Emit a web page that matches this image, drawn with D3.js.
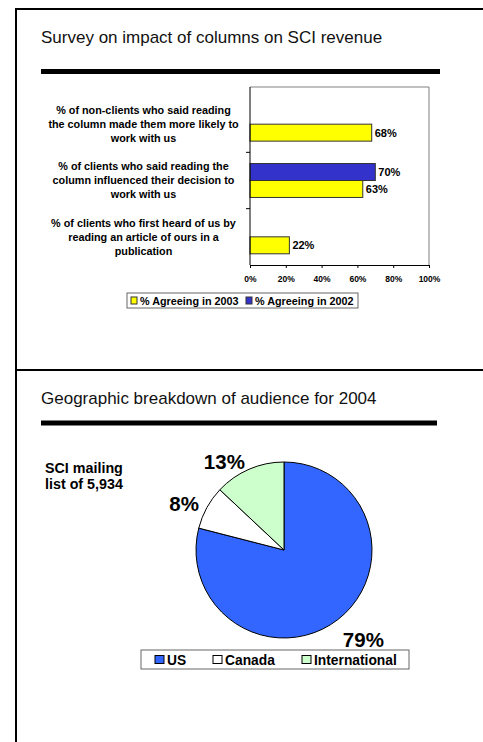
<!DOCTYPE html>
<html>
<head>
<meta charset="utf-8">
<script src="https://cdn.jsdelivr.net/npm/d3@7"></script>
<style>
body { margin: 0; background: #fff; }
svg { display: block; font-family: "Liberation Sans", Arial, sans-serif; }
</style>
</head>
<body>
<div id="container"></div>
<script>
// survey bar chart data
const surveyQuestions = [
    ["% of non-clients who said reading", "the column made them more likely to", "work with us"],
    ["% of clients who said reading the", "column influenced their decision to", "work with us"],
    ["% of clients who first heard of us by", "reading an article of ours in a", "publication"]
];
const agreeing2003 = [68, 63, 22];
const agreeing2002 = [null, 70, null];
const percentTicks = [0, 20, 40, 60, 80, 100];
const surveySeries = ["% Agreeing in 2003", "% Agreeing in 2002"];

// audience pie data
const regions = ["US", "Canada", "International"];
const regionShare = [79, 8, 13];

const width = 483, height = 742;

const svg = d3.select("#container")
    .append("svg")
    .attr("width", width)
    .attr("height", height);

// page frame
svg.append("line").attr("x1", 16).attr("x2", 16).attr("y1", 8).attr("y2", height)
    .attr("stroke", "#000").attr("stroke-width", 2);
svg.append("line").attr("x1", 15).attr("x2", width).attr("y1", 9).attr("y2", 9)
    .attr("stroke", "#000").attr("stroke-width", 2);
svg.append("line").attr("x1", 16).attr("x2", width).attr("y1", 370).attr("y2", 370)
    .attr("stroke", "#000").attr("stroke-width", 2);

function slideTitle(text, baseline, ruleY, ruleEnd) {
    svg.append("text")
        .attr("x", 41).attr("y", baseline)
        .attr("font-size", 17)
        .attr("fill", "#111")
        .text(text);
    svg.append("rect")
        .attr("x", 41).attr("y", ruleY - 2.5)
        .attr("width", ruleEnd - 41).attr("height", 5)
        .attr("fill", "#000");
}

slideTitle("Survey on impact of columns on SCI revenue", 43, 71.5, 440);
slideTitle("Geographic breakdown of audience for 2004", 404, 423, 437);

// ---- bar chart ----
const x = d3.scaleLinear().domain([0, 100]).range([250, 429]);
const y0 = d3.scaleBand().domain(d3.range(surveyQuestions.length)).range([96, 265]);
const y1 = d3.scaleBand().domain(["2002", "2003"]).range([0, y0.bandwidth()])
    .paddingInner(0).paddingOuter(0.66);

const bars = svg.append("g");

// plot area border (gray)
bars.append("path")
    .attr("d", `M${x(0)},87H${x(100)}V265`)
    .attr("fill", "none").attr("stroke", "#808080").attr("stroke-width", 1);

const rows = bars.selectAll("g.row")
    .data(surveyQuestions.map((q, i) => ({ i, q, v03: agreeing2003[i], v02: agreeing2002[i] })))
    .join("g")
    .attr("class", "row")
    .attr("transform", d => `translate(0,${y0(d.i)})`);

rows.each(function (d) {
    const g = d3.select(this);
    const items = [
        { key: "2002", v: d.v02, fill: "#3333cc" },
        { key: "2003", v: d.v03, fill: "#ffff00" }
    ].filter(e => e.v != null);
    g.selectAll("rect")
        .data(items)
        .join("rect")
        .attr("x", x(0))
        .attr("y", e => y1(e.key))
        .attr("width", e => x(e.v) - x(0))
        .attr("height", y1.bandwidth())
        .attr("fill", e => e.fill)
        .attr("stroke", "#333")
        .attr("stroke-width", 1);
    g.selectAll("text.val")
        .data(items)
        .join("text")
        .attr("class", "val")
        .attr("x", e => x(e.v) + 3)
        .attr("y", e => y1(e.key) + y1.bandwidth() / 2)
        .attr("dominant-baseline", "central")
        .attr("font-size", 11).attr("font-weight", "bold")
        .text(e => e.v + "%");
    g.selectAll("text.cat")
        .data(d.q)
        .join("text")
        .attr("class", "cat")
        .attr("x", 143.5)
        .attr("y", (line, k) => y0.bandwidth() / 2 + (k - 1) * 14)
        .attr("text-anchor", "middle")
        .attr("dominant-baseline", "central")
        .attr("font-size", 10.8).attr("font-weight", "bold")
        .text(line => line);
});

// left axis with ticks between categories
bars.append("line").attr("x1", x(0)).attr("x2", x(0)).attr("y1", 87).attr("y2", 265)
    .attr("stroke", "#000");
bars.selectAll("line.cattick")
    .data(d3.range(1, surveyQuestions.length))
    .join("line")
    .attr("class", "cattick")
    .attr("x1", x(0) - 4).attr("x2", x(0))
    .attr("y1", i => y0(i)).attr("y2", i => y0(i))
    .attr("stroke", "#000");

const xAxis = bars.append("g")
    .attr("transform", "translate(0,265)")
    .call(d3.axisBottom(x).tickValues(percentTicks).tickFormat(d => d + "%")
        .tickSize(3).tickSizeOuter(0).tickPadding(8));
xAxis.selectAll("text").attr("font-size", 8.5).attr("font-weight", "bold")
    .attr("font-family", "\"Liberation Sans\", Arial, sans-serif");

// bar legend
const leg1 = svg.append("g");
leg1.append("rect").attr("x", 127).attr("y", 293).attr("width", 231).attr("height", 15)
    .attr("fill", "#fff").attr("stroke", "#666");
const leg1Items = [
    { label: surveySeries[0], fill: "#ffff00", x: 131 },
    { label: surveySeries[1], fill: "#3333cc", x: 246 }
];
leg1.selectAll("rect.sw").data(leg1Items).join("rect").attr("class", "sw")
    .attr("x", d => d.x).attr("y", 297).attr("width", 6).attr("height", 7)
    .attr("fill", d => d.fill).attr("stroke", "#333");
leg1.selectAll("text").data(leg1Items).join("text")
    .attr("x", d => d.x + 9).attr("y", 300.5)
    .attr("dominant-baseline", "central")
    .attr("font-size", 10.8).attr("font-weight", "bold")
    .text(d => d.label);

// ---- pie chart ----
const pieColors = d3.scaleOrdinal().domain(regions).range(["#3366ff", "#ffffff", "#ccffcc"]);
const cx = 284, cy = 550, r = 88;
const pie = d3.pie().sort(null).value(d => d.v);
const arcs = pie(regions.map((k, i) => ({ k, v: regionShare[i] })));
const arc = d3.arc().innerRadius(0).outerRadius(r);

const pieG = svg.append("g").attr("transform", `translate(${cx},${cy})`);
pieG.selectAll("path")
    .data(arcs)
    .join("path")
    .attr("d", arc)
    .attr("fill", d => pieColors(d.data.k))
    .attr("stroke", "#000")
    .attr("stroke-width", 1);

const labelArc = d3.arc().innerRadius(96).outerRadius(96);
pieG.selectAll("text")
    .data(arcs)
    .join("text")
    .each(function (d) {
        const [px, py] = labelArc.centroid(d);
        d3.select(this)
            .attr("x", px + (px < 0 ? -1 : 0))
            .attr("y", py + (py > 0 ? 14 : 0))
            .attr("text-anchor", px < 0 ? "end" : "start");
    })
    .attr("dominant-baseline", "central")
    .attr("font-size", 20.5).attr("font-weight", "bold")
    .text(d => d.data.v + "%");

svg.append("text")
    .attr("x", 45).attr("y", 473)
    .attr("font-size", 14.3).attr("font-weight", "bold")
    .selectAll("tspan")
    .data(["SCI mailing", "list of 5,934"])
    .join("tspan")
    .attr("x", 45)
    .attr("dy", (d, i) => i === 0 ? 0 : 15.5)
    .text(d => d);

// pie legend
const leg2 = svg.append("g");
leg2.append("rect").attr("x", 141).attr("y", 650).attr("width", 268).attr("height", 19)
    .attr("fill", "#fff").attr("stroke", "#666");
const leg2X = [155, 213, 302];
leg2.selectAll("rect.sw").data(regions).join("rect").attr("class", "sw")
    .attr("x", (d, i) => leg2X[i]).attr("y", 655.5).attr("width", 9).attr("height", 8)
    .attr("fill", d => pieColors(d)).attr("stroke", "#000");
leg2.selectAll("text").data(regions).join("text")
    .attr("x", (d, i) => leg2X[i] + 12).attr("y", 660)
    .attr("dominant-baseline", "central")
    .attr("font-size", 13.8).attr("font-weight", "bold")
    .text(d => d);
</script>
</body>
</html>
